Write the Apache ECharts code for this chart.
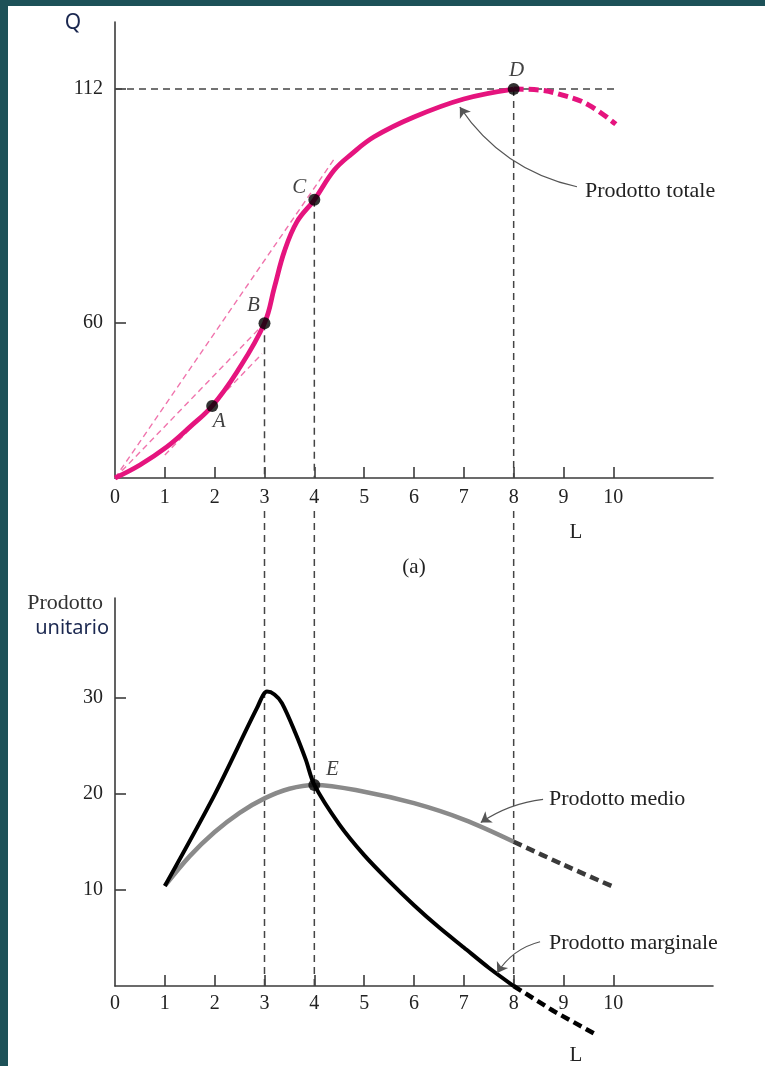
<!DOCTYPE html>
<html>
<head>
<meta charset="utf-8">
<script src="https://cdn.jsdelivr.net/npm/echarts@6/dist/echarts.min.js"></script>
<style>
  html, body { margin: 0; padding: 0; background: #ffffff; }
  #chart { width: 765px; height: 1066px; }
</style>
</head>
<body>
<div id="chart"></div>
<script>
// ---- Labour axis (shared by both panels) ----
const laborTicks = [1, 2, 3, 4, 5, 6, 7, 8, 9, 10];
const laborLabels = [0, 1, 2, 3, 4, 5, 6, 7, 8, 9, 10];

// ---- Panel (a): total product ----
const qTicks = [60, 112];
const qAxisMin = 25.6;
const qAxisMax = 126.9;
// total product, solid part up to the maximum at D
const totalSolid = [
  [0, 25.6], [0.5, 28.5], [1.04, 32.5], [1.5, 36.9], [1.95, 41.6], [2.45, 49.2],
  [3, 60], [3.2, 68], [3.4, 76], [3.65, 82.5], [4, 87.4], [4.4, 94.0],
  [4.75, 97.6], [5.2, 101.4], [6, 105.8], [7, 109.8], [8, 112]
];
// total product, dashed part beyond D
const totalDashed = [[8, 112], [8.5, 111.8], [9, 110.6], [9.5, 108.5], [10.05, 104.2]];
// highlighted points on the total product curve
const totalPoints = [
  { name: 'A', value: [1.95, 41.6], offset: [7, 16] },
  { name: 'B', value: [3, 60], offset: [-11, -18] },
  { name: 'C', value: [4, 87.4], offset: [-15, -12] },
  { name: 'D', value: [8, 112], offset: [3, -19] }
];
// rays from the origin and the tangent at A
const rayOC = [[0, 25.6], [4.4, 96.5]];
const rayOB = [[0, 25.6], [3, 60]];
const tangentA = [[1.0, 30.7], [2.95, 53.2]];
// reference lines
const maxLine = [[0, 112], [10.05, 112]];
const dropB = [[3, 60], [3, qAxisMin]];
const dropC = [[4, 87.4], [4, qAxisMin]];
const dropD = [[8, 112], [8, qAxisMin]];
const arrowTotal = [[9.27, 90.3], [6.92, 108.0]];

// ---- Lower panel: average and marginal product ----
const unitTicks = [10, 20, 30];
const unitAxisMax = 40.33;
const averageSolid = [
  [1, 10.4], [1.5, 13.5], [2, 16.0], [2.5, 18.0], [3, 19.5], [3.5, 20.5],
  [4, 20.9], [5, 20.2], [6, 19.0], [7, 17.3], [8, 15.0]
];
const averageDashed = [[8, 15.0], [9, 12.6], [10.05, 10.2]];
const marginalSolid = [
  [1, 10.4], [2, 19.9], [2.85, 28.9], [3.05, 30.6], [3.2, 30.3], [3.35, 29.4],
  [3.62, 26.3], [3.83, 23.5], [4, 20.9], [4.5, 16.8], [5, 13.6], [5.5, 10.9],
  [6, 8.4], [6.5, 6.1], [7, 4.0], [7.5, 1.9], [8, 0]
];
const marginalDashed = [[8, 0], [8.8, -2.6], [9.67, -5.1]];
const pointE = [4, 20.9];
// vertical guides continued through the gap between the panels
const guide3 = [[3, 0], [3, 49.5]];
const guide4 = [[4, 0], [4, 49.5]];
const guide8 = [[8, 0], [8, 49.5]];
const arrowAverage = [[8.59, 19.4], [7.34, 17.0]];
const arrowMarginal = [[8.53, 4.6], [7.67, 1.35]];

const SERIF = 'Liberation Serif';
const SANS = 'Noto Sans';
const PINK = '#e5147e';
const AXIS = '#3b3b3b';

function laborAxis(gridIndex) {
  return {
    type: 'value', gridIndex: gridIndex, min: 0, max: 12,
    axisLine: { show: true, lineStyle: { color: AXIS, width: 1.6 } },
    axisTick: { show: true, inside: true, length: 11, customValues: laborTicks,
                lineStyle: { color: AXIS, width: 1.6 } },
    axisLabel: { customValues: laborLabels, fontFamily: SERIF, fontSize: 20,
                 color: '#222', margin: gridIndex === 0 ? 10 : 8 },
    splitLine: { show: false }
  };
}

function valueAxis(gridIndex, min, max, ticks) {
  return {
    type: 'value', gridIndex: gridIndex, min: min, max: max,
    axisLine: { show: true, lineStyle: { color: AXIS, width: 1.6 } },
    axisTick: { show: true, inside: true, length: 11, customValues: ticks,
                lineStyle: { color: AXIS, width: 1.6 } },
    axisLabel: { customValues: ticks, fontFamily: SERIF, fontSize: 20, color: '#222', margin: 12 },
    splitLine: { show: false }
  };
}

function dashedGuide(data, gi) {
  return {
    type: 'line', xAxisIndex: gi, yAxisIndex: gi, data: data, symbol: 'none',
    clip: false, silent: true, z: 1,
    lineStyle: { color: '#444', width: 1.5, type: [7, 5] }
  };
}

function pinkRay(data) {
  return {
    type: 'line', xAxisIndex: 0, yAxisIndex: 0, data: data, symbol: 'none',
    silent: true, z: 2,
    lineStyle: { color: '#f074ad', width: 1.4, type: [6, 4] }
  };
}

function arrow(coords, gi, curveness) {
  return {
    type: 'lines', coordinateSystem: 'cartesian2d', xAxisIndex: gi, yAxisIndex: gi,
    symbol: ['none', 'arrow'], symbolSize: [0, 10], silent: true, z: 5,
    lineStyle: { color: '#555', width: 1.1, curveness: curveness, opacity: 1 },
    data: [{ coords: coords }]
  };
}

const labelFont = { fontFamily: SERIF, fontStyle: 'italic', fontSize: 21, color: '#111' };

const option = {
  animation: false,
  backgroundColor: '#ffffff',
  grid: [
    { left: 115, right: 52, top: 22, bottom: 588, containLabel: false },
    { left: 115, right: 52, top: 598, bottom: 80, containLabel: false }
  ],
  xAxis: [laborAxis(0), laborAxis(1)],
  yAxis: [
    valueAxis(0, qAxisMin, qAxisMax, qTicks),
    valueAxis(1, 0, unitAxisMax, unitTicks)
  ],
  graphic: [
    { type: 'rect', shape: { x: 0, y: 0, width: 8, height: 1066 }, style: { fill: '#1d5158' }, z: 100 },
    { type: 'rect', shape: { x: 0, y: 0, width: 765, height: 6 }, style: { fill: '#1d5158' }, z: 100 },
    { type: 'text', x: 73, y: 23, style: { text: 'Q', font: '21px "' + SANS + '"', fill: '#1b2850', align: 'center', verticalAlign: 'middle' } },
    { type: 'text', x: 576, y: 532, style: { text: 'L', font: '21px "' + SERIF + '"', fill: '#222', align: 'center', verticalAlign: 'middle' } },
    { type: 'text', x: 414, y: 567, style: { text: '(a)', font: '21px "' + SERIF + '"', fill: '#222', align: 'center', verticalAlign: 'middle' } },
    { type: 'text', x: 585, y: 191, style: { text: 'Prodotto totale', font: '22px "' + SERIF + '"', fill: '#222', align: 'left', verticalAlign: 'middle' } },
    { type: 'text', x: 103, y: 603, style: { text: 'Prodotto', font: '22px "' + SERIF + '"', fill: '#333', align: 'right', verticalAlign: 'middle' } },
    { type: 'text', x: 109, y: 628, style: { text: 'unitario', font: '20px "' + SANS + '"', fill: '#1b2850', align: 'right', verticalAlign: 'middle' } },
    { type: 'text', x: 549, y: 799, style: { text: 'Prodotto medio', font: '22px "' + SERIF + '"', fill: '#222', align: 'left', verticalAlign: 'middle' } },
    { type: 'text', x: 549, y: 943, style: { text: 'Prodotto marginale', font: '22px "' + SERIF + '"', fill: '#222', align: 'left', verticalAlign: 'middle' } },
    { type: 'text', x: 576, y: 1055, style: { text: 'L', font: '21px "' + SERIF + '"', fill: '#222', align: 'center', verticalAlign: 'middle' } }
  ],
  series: [
    // panel (a) guides
    dashedGuide(maxLine, 0),
    dashedGuide(dropB, 0),
    dashedGuide(dropC, 0),
    dashedGuide(dropD, 0),
    pinkRay(rayOC),
    pinkRay(rayOB),
    pinkRay(tangentA),
    {
      type: 'line', xAxisIndex: 0, yAxisIndex: 0, data: totalSolid, symbol: 'none',
      smooth: 0.4, z: 3,
      lineStyle: { color: PINK, width: 4.8 }
    },
    {
      type: 'line', xAxisIndex: 0, yAxisIndex: 0, data: totalDashed, symbol: 'none',
      smooth: 0.4, z: 3,
      lineStyle: { color: PINK, width: 5, type: [10, 5] }
    },
    {
      type: 'scatter', xAxisIndex: 0, yAxisIndex: 0, symbolSize: 12, z: 4,
      itemStyle: { color: '#000' },
      data: totalPoints.map(p => ({
        value: p.value, name: p.name,
        label: Object.assign({ show: true, position: 'inside', offset: p.offset, formatter: p.name }, labelFont)
      }))
    },
    arrow(arrowTotal, 0, 0.2),

    // lower panel guides
    dashedGuide(guide3, 1),
    dashedGuide(guide4, 1),
    dashedGuide(guide8, 1),
    {
      type: 'line', xAxisIndex: 1, yAxisIndex: 1, data: averageSolid, symbol: 'none',
      smooth: 0.35, z: 3,
      lineStyle: { color: '#8a8a8a', width: 4.5 }
    },
    {
      type: 'line', xAxisIndex: 1, yAxisIndex: 1, data: averageDashed, symbol: 'none',
      smooth: 0.3, z: 3,
      lineStyle: { color: '#3a3a3a', width: 4.5, type: [9, 5] }
    },
    {
      type: 'line', xAxisIndex: 1, yAxisIndex: 1, data: marginalSolid, symbol: 'none',
      smooth: 0.3, z: 4,
      lineStyle: { color: '#000', width: 4 }
    },
    {
      type: 'line', xAxisIndex: 1, yAxisIndex: 1, data: marginalDashed, symbol: 'none',
      clip: false, z: 4,
      lineStyle: { color: '#000', width: 4.5, type: [9, 5] }
    },
    {
      type: 'scatter', xAxisIndex: 1, yAxisIndex: 1, symbolSize: 12, z: 5,
      itemStyle: { color: '#000' },
      data: [{ value: pointE, name: 'E',
        label: Object.assign({ show: true, position: 'inside', offset: [18, -15], formatter: 'E' }, labelFont) }]
    },
    arrow(arrowAverage, 1, -0.12),
    arrow(arrowMarginal, 1, -0.2)
  ]
};

const chart = echarts.init(document.getElementById('chart'), null, { renderer: 'canvas' });
chart.setOption(option);
</script>
</body>
</html>
